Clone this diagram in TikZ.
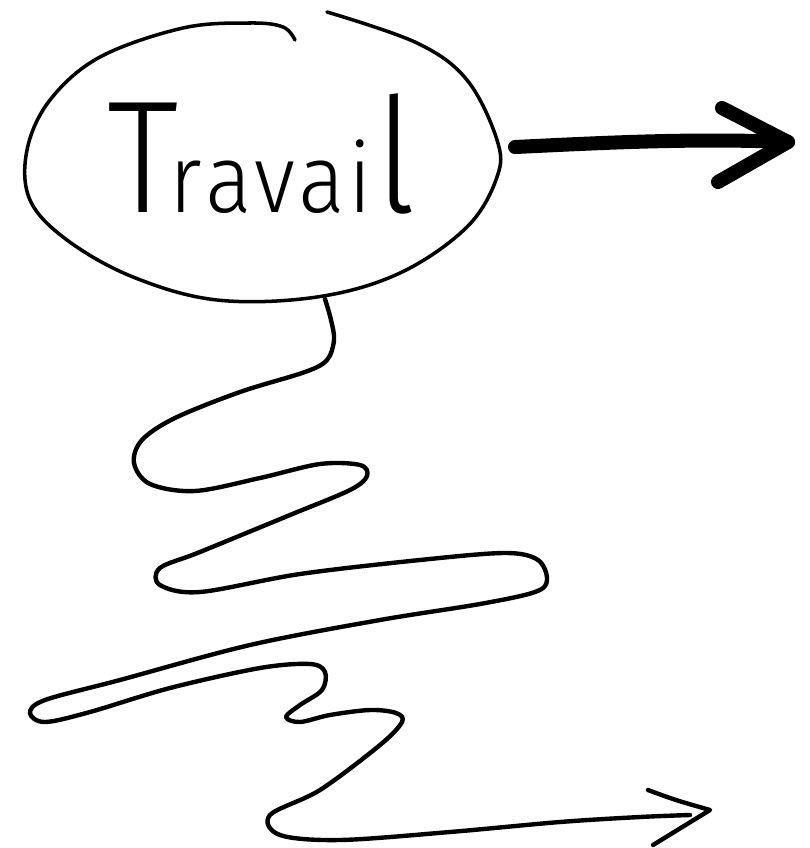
\documentclass[tikz,border=0pt]{standalone}
\usepackage{fontspec}
\newfontfamily\mainecrite{Fira Sans Light}
\usetikzlibrary{calc}

\newcommand{\grand}{\fontsize{91}{91}\selectfont}
\newcommand{\petit}{\fontsize{55}{55}\selectfont}

\tikzset{
  trait/.style={line width=2pt, line cap=round, line join=round},
  gribouillis/.style={line width=2.5pt, line cap=round, line join=round},
  grosse fleche/.style={line width=8pt, line cap=round, line join=round},
  mot/.style={font=\mainecrite, inner sep=0pt, xscale=0.9}
}

\begin{document}
\begin{tikzpicture}[x=0.02cm, y=-0.02cm]
  \useasboundingbox (0,0) rectangle (810,848);

  % Bulle (trait ouvert en haut)
  \draw[trait] plot[smooth, tension=0.6] coordinates {(295,40) (283,27) (250,23) (183,28) (100,57) (50,100) (27,150) (30,200) (67,240) (133,277) (217,300) (317,297) (400,273) (467,227) (497,177) (497,140) (467,80) (417,43) (327,12)};
  \node[mot, anchor=base] (travail) at (262,212) {\grand T\kern-6pt\petit r\kern2pt a\kern2pt v\kern2pt a\kern2pt i\kern2pt\grand l};

  % Points d'accroche
  \coordinate (bulleDroite) at (515,147);
  \coordinate (pointe) at (788,142);
  \coordinate (bulleBas) at (325,299);
  \coordinate (bout) at (710,810);

  % Grosse fleche a droite
  \draw[grosse fleche] (bulleDroite) .. controls (600,143) and (690,138) .. (pointe);
  \draw[grosse fleche] (722,108) -- (pointe) -- (718,182);

  % Chemin tortueux
  \draw[gribouillis] plot[smooth, tension=0.55] coordinates {(bulleBas) (331,320) (334,340) (327,360) (305,372) (240,392) (175,418) (142,440) (134,463) (150,484) (195,491) (260,478) (320,464) (360,465) (367,476) (350,490) (290,515) (200,552) (160,568) (160,585) (200,592) (300,574) (420,560) (505,553) (538,560) (547,580) (535,592) (480,604) (380,620) (250,645) (120,680) (45,700) (30,713) (45,722) (90,712) (170,688) (260,668) (310,664) (325,672) (322,690) (300,705) (286,717) (300,722) (330,715) (370,710) (396,713) (402,722) (380,745) (320,790) (270,815) (280,835) (340,840) (450,832) (560,822) (640,817) (690,815)};
  \draw[gribouillis] (648,790) .. controls (675,800) .. (bout) -- (653,845);
\end{tikzpicture}
\end{document}
